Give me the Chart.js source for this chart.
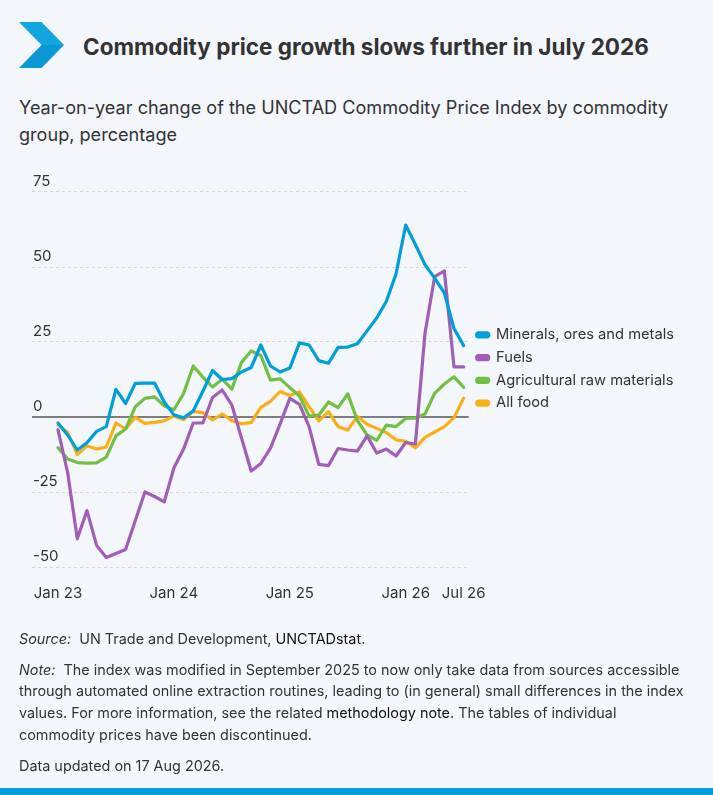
<!DOCTYPE html>
<html>
<head>
<meta charset="utf-8">
<script src="https://cdn.jsdelivr.net/npm/chart.js@4"></script>
<style>
  html, body { margin: 0; padding: 0; }
  body {
    width: 713px; height: 795px; position: relative; overflow: hidden;
    background: #f3f7fc; font-family: Inter, "Noto Sans", sans-serif; color: #333;
  }
  #logo { position: absolute; left: 19px; top: 22px; }
  #title { position: absolute; left: 83px; top: 32px; font-size: 22.5px; font-weight: 700; color: #333; line-height: 30px; }
  #subtitle { position: absolute; left: 19px; top: 94px; font-size: 18.1px; line-height: 26.7px; color: #333; }
  #box { position: absolute; left: 0; top: 160px; width: 713px; height: 470px; }
  #foot { position: absolute; left: 19px; top: 628px; font-size: 14.4px; line-height: 21.7px; color: #333; }
  #foot p { margin: 0 0 9px 0; }
  #foot i { margin-right: 4px; }
  #foot .lnk { color: #111; }
  #bar { position: absolute; left: 0; top: 788px; width: 713px; height: 7px; background: #009edb; }
</style>
</head>
<body>
<svg id="logo" width="46" height="46" viewBox="0 0 46 46">
  <polygon points="0,0 22.5,0 45,23 22.5,23" fill="#12a5df"/>
  <polygon points="22.5,23 45,23 22.5,46 0,46" fill="#0a97d4"/>
</svg>
<div id="title">Commodity price growth slows further in July 2026</div>
<div id="subtitle">Year-on-year change of the UNCTAD Commodity Price Index by commodity<br>group, percentage</div>
<div id="box"><canvas id="chartCanvas"></canvas></div>
<div id="foot">
  <p><i>Source:</i> UN Trade and Development, <span class="lnk">UNCTADstat</span>.</p>
  <p><i>Note:</i> The index was modified in September 2025 to now only take data from sources accessible<br>through automated online extraction routines, leading to (in general) small differences in the index<br>values. For more information, see the related <span class="lnk">methodology note</span>. The tables of individual<br>commodity prices have been discontinued.</p>
  <p>Data updated on 17 Aug 2026.</p>
</div>
<div id="bar"></div>

<script>
// ================= DATA =================

const months = [
    "Jan 23","Feb 23","Mar 23","Apr 23","May 23","Jun 23","Jul 23","Aug 23","Sep 23","Oct 23","Nov 23","Dec 23",
    "Jan 24","Feb 24","Mar 24","Apr 24","May 24","Jun 24","Jul 24","Aug 24","Sep 24","Oct 24","Nov 24","Dec 24",
    "Jan 25","Feb 25","Mar 25","Apr 25","May 25","Jun 25","Jul 25","Aug 25","Sep 25","Oct 25","Nov 25","Dec 25",
    "Jan 26","Feb 26","Mar 26","Apr 26","May 26","Jun 26","Jul 26"
];

const minerals = [
    -2, -6, -11, -8.6, -4.8, -3.2, 9.2, 4.5, 11.2, 11.3, 11.3, 5,
    0.7, -0.3, 2, 8.6, 15.5, 12.5, 12.8, 15, 16.5, 24, 17, 15,
    16.3, 24.7, 24, 18.8, 17.9, 23.2, 23.3, 24.4, 28.7, 33, 38.6, 47.7,
    64, 57.5, 50.7, 46.3, 41.4, 29.5, 23.8
];

const fuels = [
    -4.3, -18.5, -40.6, -31.2, -42.8, -46.8, -45.5, -44.2, -34.6, -25, -26.5, -28.3,
    -17, -10.7, -2, -2, 6.5, 9, 4, -7, -18, -15.5, -10.4, -2.3,
    6.2, 4.2, -3.2, -15.8, -16.2, -10.5, -11, -11.4, -6.3, -12, -10.7, -13,
    -8.5, -9, 28, 46.8, 48.7, 16.7, 16.7
];

const agri = [
    -10.2, -14, -15.2, -15.4, -15.3, -13.4, -6.3, -4, 3.4, 6.2, 6.7, 3.7,
    2.4, 7.8, 17, 13.3, 10, 12.6, 9.3, 18.2, 22, 20.5, 12.3, 12.7,
    9.8, 7, 0.3, 0.6, 5, 3.1, 7.7, -1.2, -6, -7.8, -2.7, -3.2,
    -0.5, -0.4, 1, 7.9, 11, 13.4, 9.9
];

const food = [
    -2.7, -5.1, -12.5, -9.6, -10.7, -10, -2, -4, -0.1, -2.1, -1.8, -1.3,
    0.3, -0.9, 1.9, 1.4, -1, 1, -1.2, -2.2, -1.9, 3.2, 5.2, 8.5,
    7.2, 8.4, 3.4, -1.3, 1.8, -3.2, -4.4, 0.2, -2.4, -3.8, -5.2, -7.6,
    -8.1, -10.3, -6.8, -5, -3.2, -0.2, 6.3
];

const xTickPos = [0, 12, 24, 36, 42];
const xTickLabels = ["Jan 23", "Jan 24", "Jan 25", "Jan 26", "Jul 26"];
const yTicks = [-50, -25, 0, 25, 50, 75];

const seriesNames = ["Minerals, ores and metals", "Fuels", "Agricultural raw materials", "All food"];
const seriesColors = ["#009edb", "#a05eb5", "#72bf44", "#fbaf17"];

// ================= CHART =================

const FONT = "Inter, 'Noto Sans', sans-serif";

function toPoints(arr) {
    return arr.map((v, i) => ({ x: i, y: v }));
}

const datasets = [minerals, fuels, agri, food].map((arr, k) => ({
    label: seriesNames[k],
    data: toPoints(arr),
    borderColor: seriesColors[k],
    backgroundColor: seriesColors[k],
    borderWidth: 3.2,
    pointRadius: 0,
    tension: 0,
    borderJoinStyle: "round",
    borderCapStyle: "round"
}));

// solid zero line under the series
const zeroLine = {
    id: "zeroLine",
    beforeDatasetsDraw(c) {
        const { ctx, chartArea, scales } = c;
        const y = scales.y.getPixelForValue(0);
        ctx.save();
        ctx.strokeStyle = "#555";
        ctx.lineWidth = 1.5;
        ctx.beginPath();
        ctx.moveTo(chartArea.left, y);
        ctx.lineTo(chartArea.right, y);
        ctx.stroke();
        ctx.restore();
    }
};

const chart = new Chart(document.getElementById("chartCanvas"), {
    type: "line",
    data: { datasets },
    options: {
        responsive: true,
        maintainAspectRatio: false,
        animation: false,
        layout: { padding: { left: 30, top: 11, right: 29, bottom: 11 } },
        plugins: {
            tooltip: { enabled: false },
            legend: {
                position: "right",
                align: "center",
                fullSize: false,
                maxWidth: 260,
                labels: {
                    color: "#333",
                    font: { family: FONT, size: 14.7 },
                    boxWidth: 12,
                    boxHeight: 4,
                    useBorderRadius: true,
                    borderRadius: 2,
                    padding: 8
                }
            }
        },
        scales: {
            x: {
                type: "linear",
                min: -2.69,
                max: 42.52,
                grid: { display: false, drawTicks: false },
                border: { display: false },
                afterBuildTicks: (s) => { s.ticks = xTickPos.map(v => ({ value: v })); },
                ticks: {
                    color: "#333",
                    font: { family: FONT, size: 15 },
                    padding: 17,
                    maxRotation: 0,
                    autoSkip: false,
                    callback: (v) => xTickLabels[xTickPos.indexOf(v)]
                }
            },
            y: {
                min: -50,
                max: 82,
                afterBuildTicks: (s) => { s.ticks = yTicks.map(v => ({ value: v })); },
                border: { display: false, dash: [3, 3] },
                grid: {
                    drawTicks: false,
                    color: (c) => c.tick && c.tick.value === 0 ? "rgba(0,0,0,0)" : "#d6d6d6"
                },
                ticks: {
                    mirror: true,
                    padding: 1,
                    labelOffset: -11,
                    color: "#333",
                    font: { family: FONT, size: 15 }
                }
            }
        }
    },
    plugins: [zeroLine]
});
</script>
</body>
</html>
